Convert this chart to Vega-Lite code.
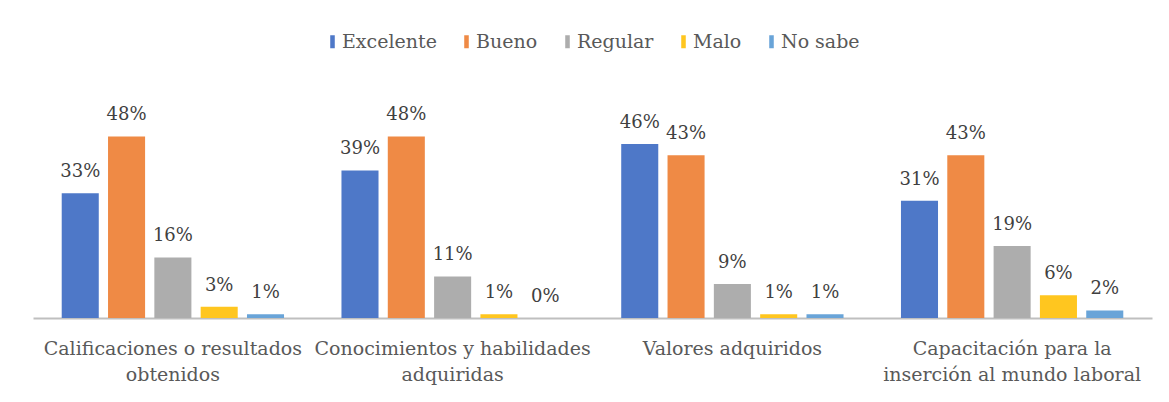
{
  "$schema": "https://vega.github.io/schema/vega-lite/v6.json",
  "width": 1119,
  "height": 227,
  "autosize": {"type": "none"},
  "padding": {"left": 33, "right": 17, "top": 91, "bottom": 84},
  "background": "#ffffff",
  "config": {
    "view": {"stroke": null},
    "font": "DejaVu Serif"
  },
  "data": {
    "values": [
      {"categoria": "Calificaciones o resultados obtenidos", "respuesta": "Excelente", "valor": 0.33},
      {"categoria": "Calificaciones o resultados obtenidos", "respuesta": "Bueno", "valor": 0.48},
      {"categoria": "Calificaciones o resultados obtenidos", "respuesta": "Regular", "valor": 0.16},
      {"categoria": "Calificaciones o resultados obtenidos", "respuesta": "Malo", "valor": 0.03},
      {"categoria": "Calificaciones o resultados obtenidos", "respuesta": "No sabe", "valor": 0.01},
      {"categoria": "Conocimientos y habilidades adquiridas", "respuesta": "Excelente", "valor": 0.39},
      {"categoria": "Conocimientos y habilidades adquiridas", "respuesta": "Bueno", "valor": 0.48},
      {"categoria": "Conocimientos y habilidades adquiridas", "respuesta": "Regular", "valor": 0.11},
      {"categoria": "Conocimientos y habilidades adquiridas", "respuesta": "Malo", "valor": 0.01},
      {"categoria": "Conocimientos y habilidades adquiridas", "respuesta": "No sabe", "valor": 0.0},
      {"categoria": "Valores adquiridos", "respuesta": "Excelente", "valor": 0.46},
      {"categoria": "Valores adquiridos", "respuesta": "Bueno", "valor": 0.43},
      {"categoria": "Valores adquiridos", "respuesta": "Regular", "valor": 0.09},
      {"categoria": "Valores adquiridos", "respuesta": "Malo", "valor": 0.01},
      {"categoria": "Valores adquiridos", "respuesta": "No sabe", "valor": 0.01},
      {"categoria": "Capacitación para la inserción al mundo laboral", "respuesta": "Excelente", "valor": 0.31},
      {"categoria": "Capacitación para la inserción al mundo laboral", "respuesta": "Bueno", "valor": 0.43},
      {"categoria": "Capacitación para la inserción al mundo laboral", "respuesta": "Regular", "valor": 0.19},
      {"categoria": "Capacitación para la inserción al mundo laboral", "respuesta": "Malo", "valor": 0.06},
      {"categoria": "Capacitación para la inserción al mundo laboral", "respuesta": "No sabe", "valor": 0.02}
    ]
  },
  "encoding": {
    "x": {
      "field": "categoria",
      "type": "nominal",
      "sort": null,
      "scale": {"paddingInner": 0, "paddingOuter": 0},
      "axis": {
        "title": null,
        "labelAngle": 0,
        "ticks": false,
        "domainColor": "#BFBFBF",
        "domainWidth": 2,
        "labelFont": "DejaVu Serif",
        "labelFontSize": 19,
        "labelColor": "#595959",
        "labelPadding": 21,
        "labelLineHeight": 26,
        "labelLimit": 400,
        "labelExpr": "datum.value == 'Calificaciones o resultados obtenidos' ? ['Calificaciones o resultados', 'obtenidos'] : datum.value == 'Conocimientos y habilidades adquiridas' ? ['Conocimientos y habilidades', 'adquiridas'] : datum.value == 'Capacitación para la inserción al mundo laboral' ? ['Capacitación para la', 'inserción al mundo laboral'] : datum.value"
      }
    },
    "xOffset": {
      "field": "respuesta",
      "type": "nominal",
      "sort": ["Excelente", "Bueno", "Regular", "Malo", "No sabe"],
      "scale": {"paddingInner": 0.2, "paddingOuter": 0.62}
    },
    "y": {
      "field": "valor",
      "type": "quantitative",
      "scale": {"domain": [0, 0.6]},
      "axis": null
    }
  },
  "layer": [
    {
      "mark": {"type": "bar"},
      "encoding": {
        "color": {
          "field": "respuesta",
          "type": "nominal",
          "sort": ["Excelente", "Bueno", "Regular", "Malo", "No sabe"],
          "scale": {
            "domain": ["Excelente", "Bueno", "Regular", "Malo", "No sabe"],
            "range": ["#4E78C8", "#EF8A45", "#ADADAD", "#FFC61F", "#69A4D8"]
          },
          "legend": {
            "title": null,
            "orient": "none",
            "direction": "horizontal",
            "legendX": 290,
            "legendY": -59,
            "symbolType": "M-0.35,-1H0.35V1H-0.35Z",
            "symbolSize": 169,
            "symbolStrokeWidth": 0,
            "labelFont": "DejaVu Serif",
            "labelFontSize": 19,
            "labelColor": "#595959",
            "labelOffset": 0,
            "columnPadding": 20
          }
        }
      }
    },
    {
      "mark": {
        "type": "text",
        "baseline": "alphabetic",
        "dy": -16,
        "font": "DejaVu Serif",
        "fontSize": 18,
        "color": "#404040"
      },
      "encoding": {
        "text": {"field": "valor", "type": "quantitative", "format": ".0%"}
      }
    }
  ]
}
